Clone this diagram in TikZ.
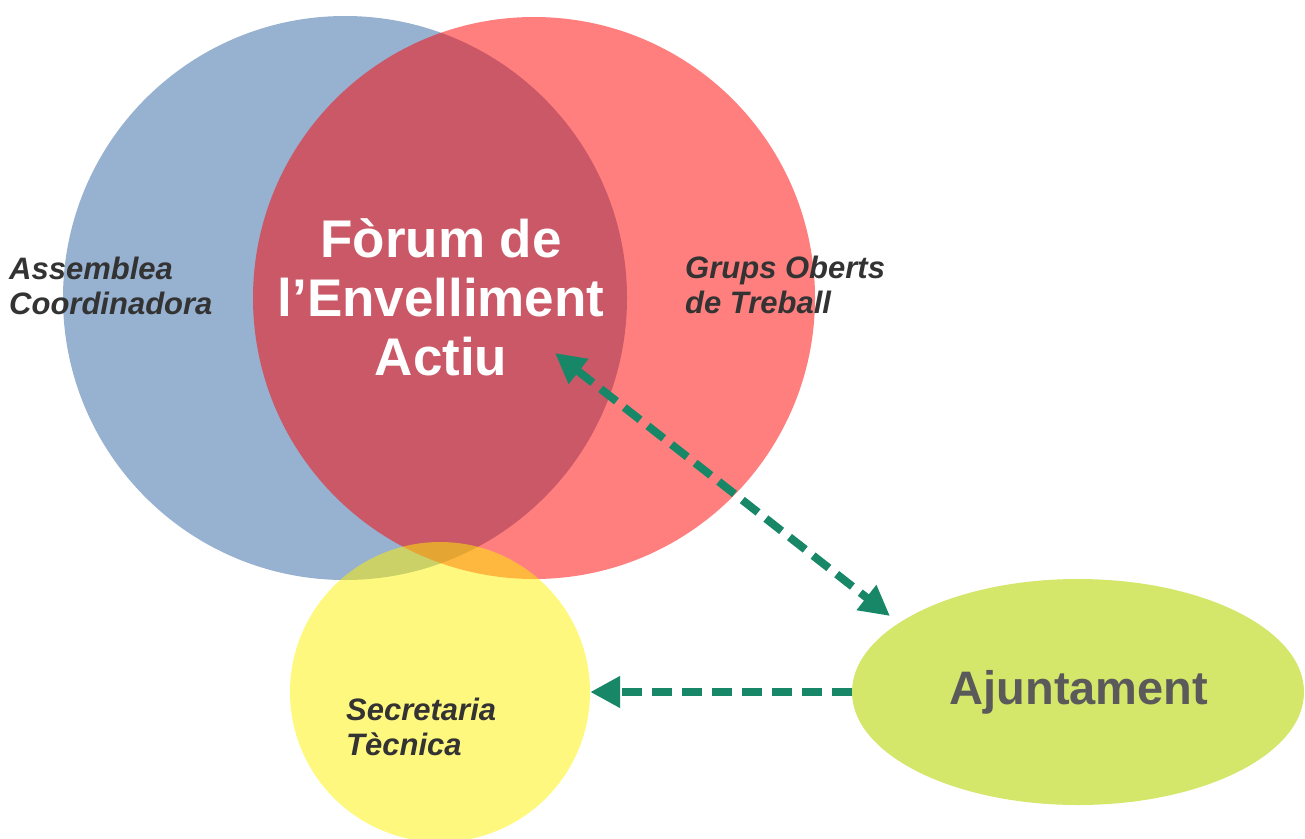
\documentclass[tikz,border=0pt]{standalone}
\usepackage{fontspec}
\setmainfont{Liberation Sans}
\usetikzlibrary{arrows.meta,shapes.geometric}
\definecolor{cblue}{RGB}{151,177,208}
\definecolor{cgreen}{RGB}{212,231,106}
\definecolor{carrow}{RGB}{23,135,104}
\definecolor{ctext}{RGB}{51,51,51}
\definecolor{cajtext}{RGB}{90,90,90}
\tikzset{
  bubble/.style={circle, draw=none, inner sep=0pt},
  arr/.style={carrow, line width=8pt, dash pattern=on 20pt off 10pt,
    {Triangle[length=30pt,width=30pt]}-{Triangle[length=30pt,width=30pt]}},
  arrone/.style={carrow, line width=8pt, dash pattern=on 20pt off 10pt,
    -{Triangle[length=30pt,width=30pt]}},
  lab/.style={align=left, anchor=west, text=ctext, inner sep=0pt, font=\fontsize{31}{35}\selectfont\bfseries\itshape},
}
\begin{document}
\begin{tikzpicture}[x=1pt,y=-1pt]
\useasboundingbox (0,0) rectangle (1305,838);
\begin{scope}
\clip (0,0) rectangle (1305,838);
\node[bubble, fill=cblue, minimum size=564pt] (blue) at (345,298) {};
\node[bubble, fill=red, fill opacity=0.5, minimum size=562pt] (red) at (534,298) {};
\node[bubble, fill=yellow, fill opacity=0.5, minimum size=300pt] (yellow) at (440,692) {};
\node[ellipse, fill=cgreen, draw=none, inner sep=0pt, minimum width=452pt, minimum height=226pt] (ajunt) at (1078,692) {};
\end{scope}
\coordinate (fa) at (555,353);
\coordinate (fb) at (890,616);
\draw[arr] (fa) -- (fb);
\draw[arrone] (ajunt.west) -- (yellow.east);
\node[text=white, align=center, font=\fontsize{53}{59}\selectfont\bfseries] (title) at (441,297) {Fòrum de\\l’Envelliment\\Actiu};
\node[lab] (assem) at (9,286) {Assemblea\\Coordinadora};
\node[lab] (grups) at (685,285) {Grups Oberts\\de Treball};
\node[lab] (secr) at (346,727) {Secretaria\\Tècnica};
\node[text=cajtext, font=\fontsize{47}{52}\selectfont\bfseries] (ajtext) at (1079,692) {Ajuntament};
\end{tikzpicture}
\end{document}
